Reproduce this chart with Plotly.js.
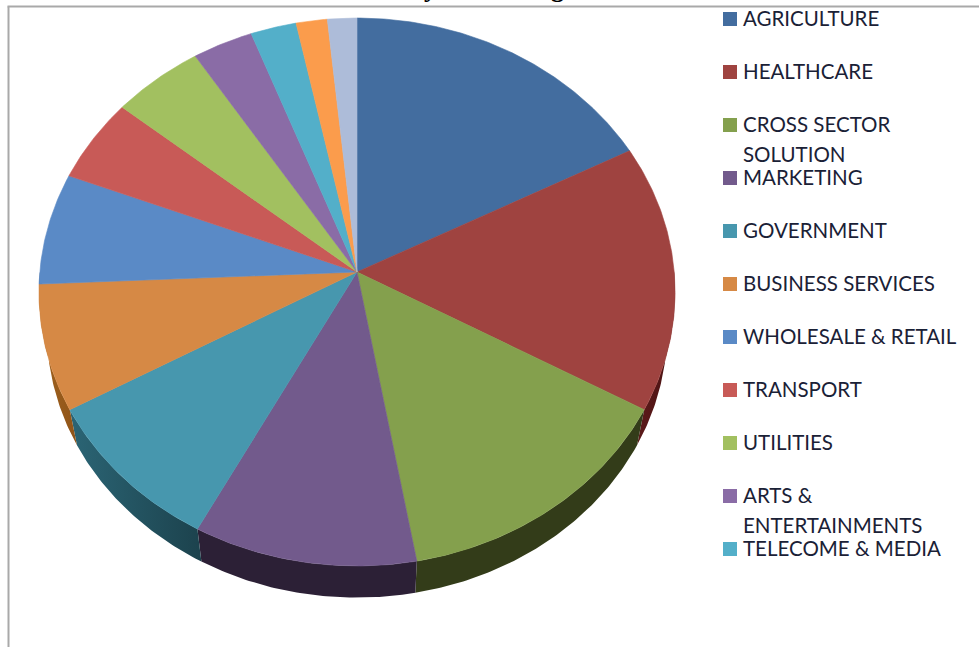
<!DOCTYPE html>
<html>
<head>
<meta charset="utf-8">
<script src="https://cdn.plot.ly/plotly-3.0.1.min.js"></script>
<style>html,body{margin:0;padding:0;background:#fff;overflow:hidden}#chart{width:979px;height:647px}</style>
</head>
<body>
<div id="chart"></div>
<script>
// Sector shares, clockwise from twelve o'clock
const sectorShares = [17.4, 15.7, 14.1, 10.6, 9.1, 7.4, 6.6, 5.0, 5.0, 3.3, 2.5, 1.7, 1.6];
const faceColors = ['#436d9f', '#9f4340', '#84a04d', '#725a8c', '#4797ae', '#d68945', '#5a8ac6',
                    '#c85a57', '#a2c060', '#8a6ca6', '#53afc9', '#fb9c4c', '#adbcd9'];
const wallColorsLeft = ['#274060', '#5c1a1a', '#333c19', '#2c2036', '#2b6575', '#a0621f', '#35537a',
                        '#7a3432', '#60732f', '#523f65', '#2f6a7c', '#9a5c28', '#677188'];
const wallColorsRight = ['#274060', '#4a1212', '#333c19', '#2c2036', '#1c424d', '#8f5418', '#35537a',
                         '#7a3432', '#60732f', '#523f65', '#2f6a7c', '#9a5c28', '#677188'];

// Legend rows; a row may carry a wrapped second line
const legendLabels = ['AGRICULTURE', 'HEALTHCARE', 'CROSS SECTOR', 'MARKETING', 'GOVERNMENT',
                      'BUSINESS SERVICES', 'WHOLESALE & RETAIL', 'TRANSPORT', 'UTILITIES', 'ARTS &',
                      'TELECOME & MEDIA'];
const legendWraps = {2: 'SOLUTION', 9: 'ENTERTAINMENTS'};

// Heading glyphs that reach into the page from above its top edge
const headingGlyphs = ['y', 'g'];
const headingGlyphX = [430, 557];

// Tilted-disc projection about the apex of the pie
const apexX = 357, apexY = 272;
const radiusX = 317.2, radiusY = 272.5, tilt = 0.073;
const wallScale = 0.975, wallDrop = 39;

function rimPoint(angle) {
  const w = 1 + tilt * Math.cos(angle);
  return [radiusX * Math.sin(angle) / w, radiusY * Math.cos(angle) / w];
}
function sweep(from, to) {
  const n = Math.max(2, Math.ceil((to - from) / 0.01));
  const out = [];
  for (let i = 0; i <= n; i++) out.push(from + (to - from) * i / n);
  return out;
}

const total = sectorShares.reduce((a, b) => a + b, 0);
const wallTraces = [], faceTraces = [];
let running = 0;
sectorShares.forEach((share, i) => {
  const a0 = running / total * 2 * Math.PI;
  running += share;
  const a1 = running / total * 2 * Math.PI;

  // Top face: apex, then along the rim
  const arc = sweep(a0, a1).map(rimPoint);
  faceTraces.push({
    type: 'scatter', mode: 'lines', fill: 'toself', fillcolor: faceColors[i],
    x: [apexX].concat(arc.map(p => apexX + p[0]), apexX),
    y: [apexY].concat(arc.map(p => apexY - p[1]), apexY),
    line: {color: faceColors[i], width: 0.6}, hoverinfo: 'skip', showlegend: false
  });

  // Side wall: only the part of the rim facing the viewer
  const w0 = Math.max(a0, Math.PI / 2), w1 = Math.min(a1, 3 * Math.PI / 2);
  if (w1 > w0) {
    const edge = sweep(w0, w1).map(rimPoint);
    const lower = edge.slice().reverse();
    wallTraces.push({
      type: 'scatter', mode: 'lines', fill: 'toself',
      fillgradient: {type: 'horizontal', colorscale: [[0, wallColorsLeft[i]], [1, wallColorsRight[i]]]},
      x: edge.map(p => apexX + p[0]).concat(lower.map(p => apexX + wallScale * p[0])),
      y: edge.map(p => apexY - p[1]).concat(lower.map(p => apexY - wallScale * p[1] + wallDrop)),
      line: {width: 0}, hoverinfo: 'skip', showlegend: false
    });
  }
});

// Legend swatches share the plot's pixel-sized axes
const legendLeft = 730, legendTextLeft = 742, legendTop = 19, rowStep = 53, wrapStep = 30, textLift = 1;
const swatches = {
  type: 'scatter', mode: 'markers',
  x: legendLabels.map(() => legendLeft),
  y: legendLabels.map((_, i) => legendTop + i * rowStep),
  marker: {symbol: 'square', size: 14, color: faceColors.slice(0, legendLabels.length), line: {width: 0}},
  hoverinfo: 'skip', showlegend: false
};

const labelFont = {family: 'Lato, Carlito, sans-serif', size: 20.5, color: '#1a2136'};
const annotations = [];
legendLabels.forEach((label, i) => {
  const y = legendTop + i * rowStep - textLift;
  annotations.push({x: legendTextLeft, y, text: label, xref: 'x', yref: 'y', xanchor: 'left', yanchor: 'middle',
                    showarrow: false, font: labelFont, borderpad: 0});
  if (legendWraps[i]) {
    annotations.push({x: legendTextLeft, y: y + wrapStep, text: legendWraps[i], xref: 'x', yref: 'y',
                      xanchor: 'left', yanchor: 'middle', showarrow: false, font: labelFont, borderpad: 0});
  }
});
headingGlyphs.forEach((glyph, i) => {
  annotations.push({x: headingGlyphX[i], y: 1, text: glyph, xref: 'x', yref: 'paper', xanchor: 'center', yanchor: 'bottom',
                    yshift: -4, showarrow: false, borderpad: 0,
                    font: {family: 'Liberation Serif, serif', size: 26, color: '#000', weight: 700}});
});

const frameColor = '#a9a9a9';
const layout = {
  width: 979, height: 647,
  margin: {l: 0, r: 0, t: 0, b: 0},
  paper_bgcolor: '#fff', plot_bgcolor: '#fff',
  xaxis: {range: [0, 979], visible: false, fixedrange: true},
  yaxis: {range: [647, 0], visible: false, fixedrange: true},
  showlegend: false,
  annotations,
  shapes: [
    {type: 'line', xref: 'x', yref: 'y', x0: 8.5, x1: 8.5, y0: 6.5, y1: 647, line: {color: frameColor, width: 2}},
    {type: 'line', xref: 'x', yref: 'y', x0: 7.5, x1: 979, y0: 6.5, y1: 6.5, line: {color: frameColor, width: 2}}
  ]
};

Plotly.newPlot('chart', wallTraces.concat(faceTraces, [swatches]), layout, {displayModeBar: false, staticPlot: true});
</script>
</body>
</html>
